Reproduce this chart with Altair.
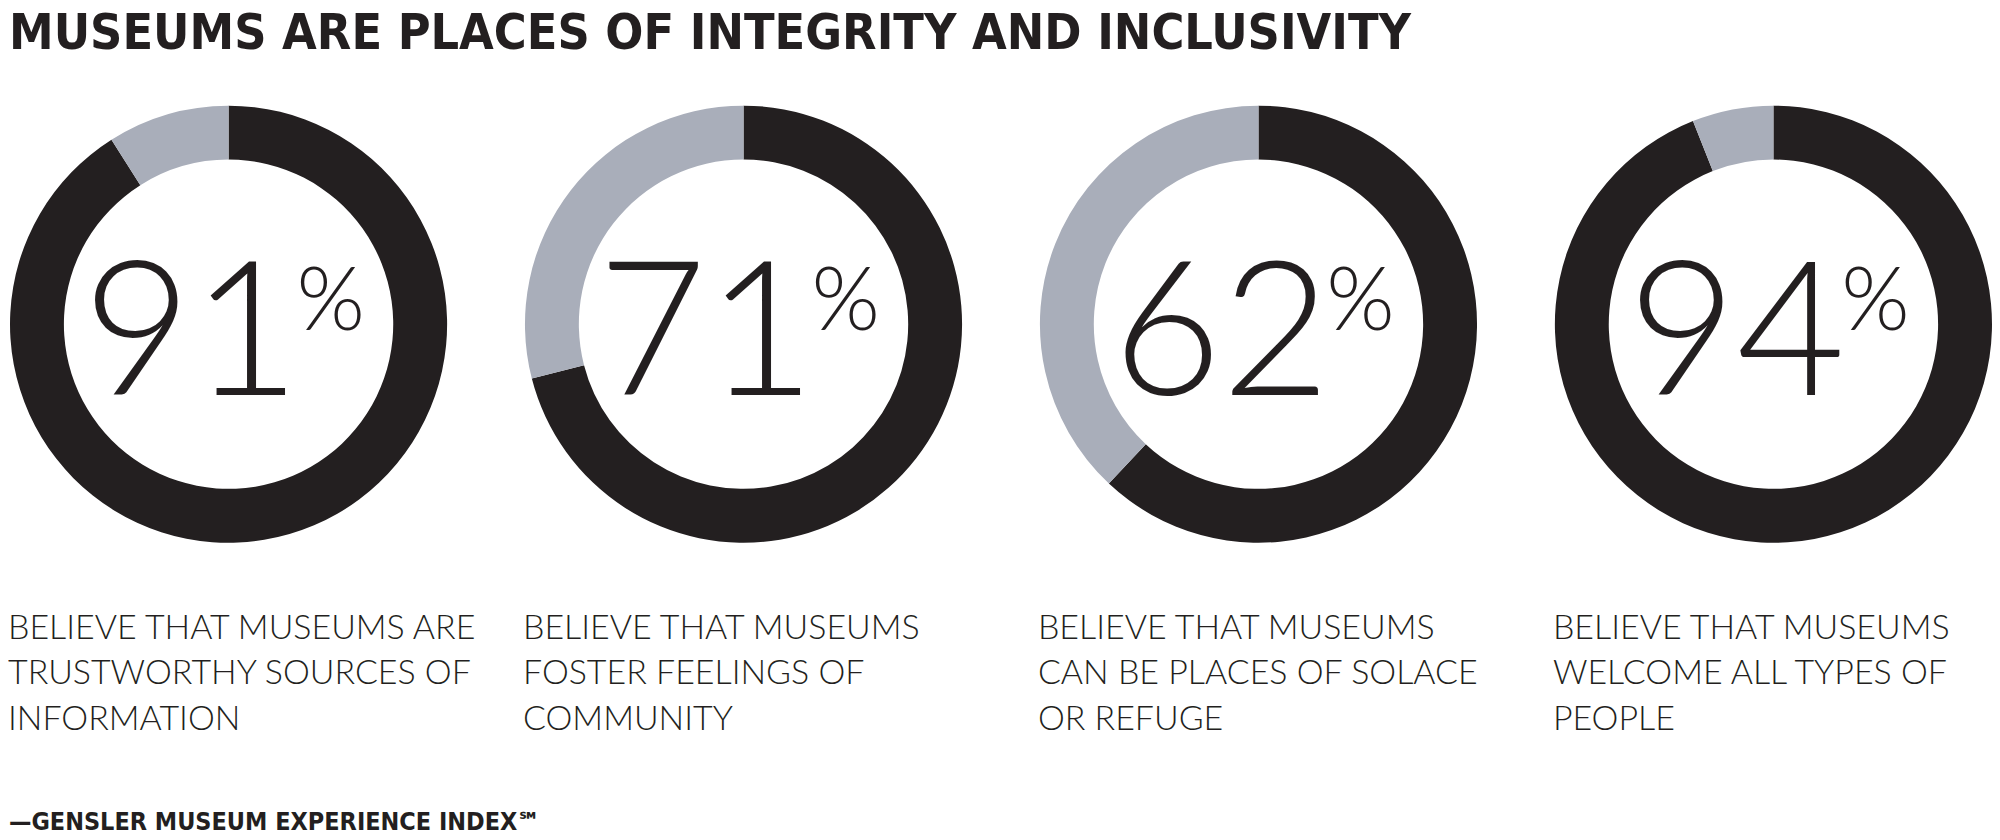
import altair as alt
import pandas as pd

# ---- data ----
metrics = ["trustworthy", "community", "solace", "welcome"]
agree = [91, 71, 62, 94]
rest = [9, 29, 38, 6]
pct_labels = ["91", "71", "62", "94"]
label_lines = [
    ["BELIEVE THAT MUSEUMS ARE", "TRUSTWORTHY SOURCES OF", "INFORMATION"],
    ["BELIEVE THAT MUSEUMS", "FOSTER FEELINGS OF", "COMMUNITY"],
    ["BELIEVE THAT MUSEUMS", "CAN BE PLACES OF SOLACE", "OR REFUGE"],
    ["BELIEVE THAT MUSEUMS", "WELCOME ALL TYPES OF", "PEOPLE"],
]
title_text = "MUSEUMS ARE PLACES OF INTEGRITY AND INCLUSIVITY"
footer_text = "\u2014GENSLER MUSEUM EXPERIENCE INDEX\u2120"

BLACK = "#231f20"
GRAY = "#a9aeba"
COND = "Liberation Sans Narrow, DejaVu Sans Condensed, sans-serif"

rows = []
for m, a, r in zip(metrics, agree, rest):
    rows.append({"metric": m, "part": "agree", "value": a, "order": 0})
    rows.append({"metric": m, "part": "rest", "value": r, "order": 1})
arcs_df = pd.DataFrame(rows)

info_df = pd.DataFrame({
    "metric": metrics,
    "num": pct_labels,
    "pct": ["%"] * 4,
    "label": label_lines,
})

TOP = 66  # plot-area top offset on page (title block)
CY = 326 - TOP

xenc = alt.X("metric:N", sort=metrics, axis=None,
             scale=alt.Scale(type="point", padding=0.4225))

arcs = alt.Chart(arcs_df).transform_stack(
    stack="value", groupby=["metric"], as_=["t0", "t1"],
    sort=[alt.SortField("order", order="ascending")]
).mark_arc(outerRadius=219, innerRadius=165).encode(
    x=xenc,
    y=alt.value(CY),
    theta=alt.Theta("t0:Q", scale=alt.Scale(domain=[0, 100])),
    theta2="t1:Q",
    color=alt.Color("part:N", legend=None,
                    scale=alt.Scale(domain=["agree", "rest"], range=[BLACK, GRAY])),
)

base_info = alt.Chart(info_df)

nums = base_info.mark_text(font="Lato", fontWeight=300, fontSize=188,
                           align="right", baseline="alphabetic", dx=72,
                           color=BLACK).encode(
    x=xenc, y=alt.value(397 - TOP), text="num:N")

pcts = base_info.mark_text(font="Lato", fontWeight=300, fontSize=88,
                           align="left", baseline="alphabetic", dx=68,
                           color=BLACK).encode(
    x=xenc, y=alt.value(332 - TOP), text="pct:N")

labels = base_info.mark_text(font="Lato", fontWeight=300, fontSize=34,
                             align="left", baseline="alphabetic", dx=-221,
                             lineHeight=46, color=BLACK).encode(
    x=xenc, y=alt.value(641 - TOP), text="label:N")

footer = alt.Chart(pd.DataFrame({"t": [footer_text]})).mark_text(
    font=COND, fontWeight="bold", fontSize=25, align="left", baseline="alphabetic",
    color=BLACK).encode(x=alt.value(-2), y=alt.value(833 - TOP), text="t:N")

chart = alt.layer(arcs, nums, pcts, labels, footer).properties(
    width=1984, height=770 - TOP + 50,
    padding=0,
    background="white",
    title=alt.TitleParams(title_text, anchor="start", frame="group",
                          font=COND, fontWeight="bold", fontSize=50,
                          color=BLACK, offset=6, dx=-2),
).configure_view(stroke=None, strokeWidth=0)

chart.save("out.html", embed_options={"renderer": "svg", "actions": False})
